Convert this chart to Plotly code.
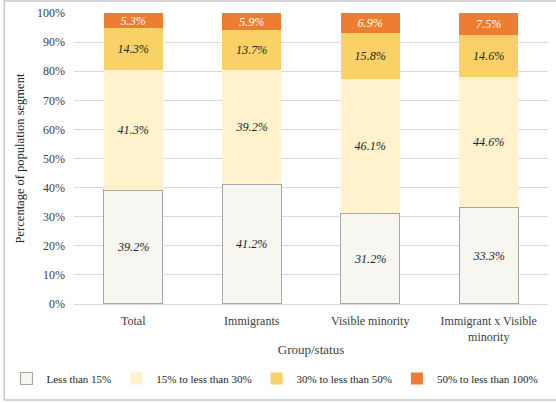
import plotly.graph_objects as go

categories = ["Total", "Immigrants", "Visible minority", "Immigrant x Visible<br>minority"]
series_names = ["Less than 15%", "15% to less than 30%", "30% to less than 50%", "50% to less than 100%"]
less_15 = [39.2, 41.2, 31.2, 33.3]
from_15_to_30 = [41.3, 39.2, 46.1, 44.6]
from_30_to_50 = [14.3, 13.7, 15.8, 14.6]
from_50_to_100 = [5.3, 5.9, 6.9, 7.5]
y_ticks = [0, 10, 20, 30, 40, 50, 60, 70, 80, 90, 100]
y_tick_labels = ["0%", "10%", "20%", "30%", "40%", "50%", "60%", "70%", "80%", "90%", "100%"]

FONT = "Liberation Serif"
fills = ["#F7F6F1", "#FFF2CC", "#F9D166", "#ED7D31"]
outlines = ["#A6A6A6", "#FFF2CC", "#F9D166", "#ED7D31"]
txtcol = ["#262626", "#262626", "#262626", "#FFFFFF"]

fig = go.Figure()
for name, vals, fc, lc, tc in zip(series_names,
                                  [less_15, from_15_to_30, from_30_to_50, from_50_to_100],
                                  fills, outlines, txtcol):
    fig.add_trace(go.Bar(
        x=categories, y=vals, name=name,
        marker=dict(color=fc, line=dict(color=lc, width=1.2 if fc == "#F7F6F1" else 0)),
        texttemplate="%{y:.1f}%", textposition="inside", insidetextanchor="middle",
        textfont=dict(family=FONT, size=13, color=tc, style="italic"),
        hoverinfo="skip",
    ))

fig.update_layout(
    barmode="stack", bargap=0.5,
    width=556, height=403,
    margin=dict(l=73, r=8, t=13, b=99),
    paper_bgcolor="white", plot_bgcolor="white",
    font=dict(family=FONT, size=12, color="#404040"),
    uniformtext=dict(minsize=11, mode="show"),
    showlegend=True,
    legend=dict(orientation="h", xref="paper", yref="paper",
                x=-0.14, y=-0.256, xanchor="left", yanchor="middle",
                font=dict(family=FONT, size=11, color="#262626"),
                traceorder="normal", itemwidth=30),
    shapes=[dict(type="rect", xref="paper", yref="paper",
                 x0=-0.147, x1=1.05, y0=-0.330, y1=1.041,
                 line=dict(color="#C8C8C8", width=1.5), layer="below")],
)
fig.update_xaxes(
    title=dict(text="Group/status", font=dict(family=FONT, size=13, color="#404040"), standoff=1),
    tickfont=dict(family=FONT, size=12, color="#404040"),
    showline=True, linecolor="#D9D9D9", ticks="", ticklabelstandoff=6, automargin=False,
)
fig.update_yaxes(
    range=[0, 100], tickmode="array", tickvals=y_ticks, ticktext=y_tick_labels,
    title=dict(text="Percentage of population segment", font=dict(family=FONT, size=12.5, color="#262626"), standoff=9),
    tickfont=dict(family=FONT, size=12, color="#404040"),
    showgrid=True, gridcolor="#D9D9D9", gridwidth=1, zeroline=False, ticks="",
    ticklabelstandoff=8, automargin=False,
)

fig.write_html("out.html", config={"displayModeBar": False},
               post_script="document.body.style.margin='0';")
